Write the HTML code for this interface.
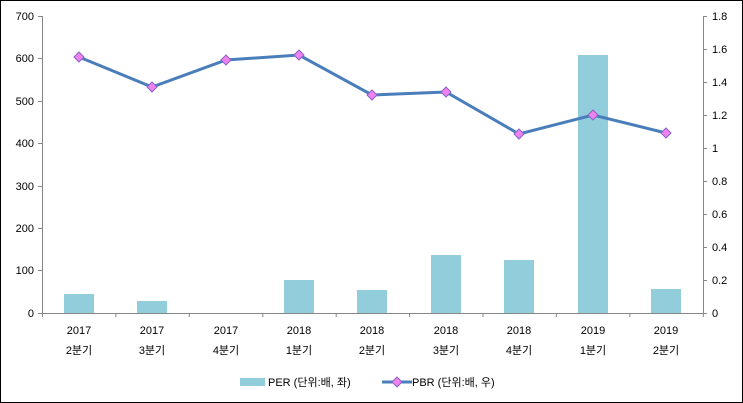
<!DOCTYPE html><html><head><meta charset="utf-8"><style>body{margin:0}svg{display:block}text{font-family:"Liberation Sans","Noto Sans CJK KR",sans-serif;font-size:11px;fill:#000}</style></head><body>
<svg width="743" height="403" viewBox="0 0 743 403">
<rect x="0.5" y="0.5" width="742" height="402" fill="#fff" stroke="#000"/>
<g fill="#92cddc">
<rect x="64" y="294" width="30" height="19"/>
<rect x="137" y="301" width="30" height="12"/>
<rect x="284" y="280" width="30" height="33"/>
<rect x="357" y="290" width="30" height="23"/>
<rect x="431" y="255" width="30" height="58"/>
<rect x="504" y="260" width="30" height="53"/>
<rect x="578" y="55" width="30" height="258"/>
<rect x="651" y="289" width="30" height="24"/>
</g>
<g stroke="#868686" fill="none">
<path d="M42.5 16V313.5H703.5V16"/>
<path d="M38 16.5h4M38 58.5h4M38 101.5h4M38 143.5h4M38 186.5h4M38 228.5h4M38 270.5h4M38 313.5h4"/>
<path d="M703 16.5h4M703 49.5h4M703 82.5h4M703 115.5h4M703 148.5h4M703 181.5h4M703 214.5h4M703 247.5h4M703 280.5h4M703 313.5h4"/>
<path d="M42.5 313v4M115.9 313v4M189.3 313v4M262.8 313v4M336.2 313v4M409.6 313v4M483 313v4M556.4 313v4M629.9 313v4M703.3 313v4"/>
</g>
<g text-anchor="end">
<text x="34" y="20">700</text><text x="34" y="62">600</text><text x="34" y="105">500</text><text x="34" y="147">400</text><text x="34" y="190">300</text><text x="34" y="232">200</text><text x="34" y="274">100</text><text x="34" y="317">0</text>
</g>
<g>
<text x="712" y="20">1.8</text><text x="712" y="53">1.6</text><text x="712" y="86">1.4</text><text x="712" y="119">1.2</text><text x="712" y="152">1</text><text x="712" y="185">0.8</text><text x="712" y="218">0.6</text><text x="712" y="251">0.4</text><text x="712" y="284">0.2</text><text x="712" y="317">0</text>
</g>
<g text-anchor="middle" style="font-size:12px">
<text x="79" y="334">2017</text><text x="79" y="354">2분기</text>
<text x="152" y="334">2017</text><text x="152" y="354">3분기</text>
<text x="226" y="334">2017</text><text x="226" y="354">4분기</text>
<text x="299" y="334">2018</text><text x="299" y="354">1분기</text>
<text x="372" y="334">2018</text><text x="372" y="354">2분기</text>
<text x="446" y="334">2018</text><text x="446" y="354">3분기</text>
<text x="519" y="334">2018</text><text x="519" y="354">4분기</text>
<text x="593" y="334">2019</text><text x="593" y="354">1분기</text>
<text x="666" y="334">2019</text><text x="666" y="354">2분기</text>
</g>
<polyline points="79,57 152,87 226,60 299,55 372,95 446,92 519,134 593,115 666,133" fill="none" stroke="#4a7ebb" stroke-width="3"/>
<g fill="#ee82ee" stroke="#8a63c8" stroke-width="1">
<path d="M79 52l5 5-5 5-5-5z"/><path d="M152 82l5 5-5 5-5-5z"/><path d="M226 55l5 5-5 5-5-5z"/><path d="M299 50l5 5-5 5-5-5z"/><path d="M372 90l5 5-5 5-5-5z"/><path d="M446 87l5 5-5 5-5-5z"/><path d="M519 129l5 5-5 5-5-5z"/><path d="M593 110l5 5-5 5-5-5z"/><path d="M666 128l5 5-5 5-5-5z"/>
</g>
<rect x="240" y="378" width="25" height="8" fill="#92cddc"/>
<text x="268" y="386">PER (단위:배, 좌)</text>
<line x1="382" y1="382" x2="412" y2="382" stroke="#4a7ebb" stroke-width="3"/>
<path d="M397 377l5 5-5 5-5-5z" fill="#ee82ee" stroke="#8a63c8"/>
<text x="412" y="386">PBR (단위:배, 우)</text>
</svg></body></html>
